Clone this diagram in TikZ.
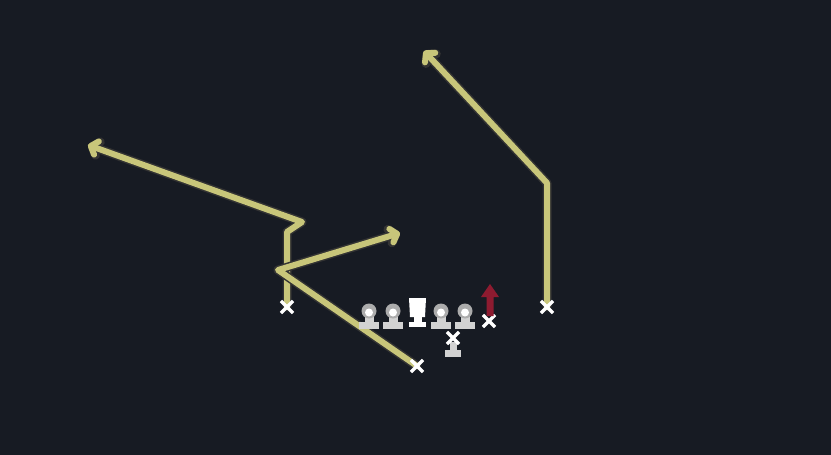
\documentclass[tikz,border=0pt]{standalone}
\usepackage{tikz}
\usetikzlibrary{shapes.misc, arrows.meta, backgrounds}
\usetikzlibrary{positioning}
\definecolor{field}{HTML}{171B23}
\definecolor{route}{HTML}{C8C67A}
\definecolor{runner}{HTML}{8E1B30}
\tikzstyle{player} = [cross out, draw=white, line width=3.2pt, minimum size=9pt, inner sep=0pt]
\tikzstyle{routeline} = [draw=route, line width=6pt, line join=round, line cap=round,
preaction={draw=black!80, line width=9pt, line join=round, line cap=round}, -{Straight Barb[length=6pt, width=14pt, line cap=round, line join=round]}]

% lineman drawn as a pawn: head, stem, base
\newcommand{\pawn}[2]{
  \fill[gray!35] (#2) ++(-10,11) rectangle ++(20,7);
  \fill[gray!35] (#2) ++(-4.5,3) rectangle ++(9,9);
  \node (#1) [circle, fill=gray!65, minimum size=15pt, inner sep=0pt] at (#2) {};
  \fill[white] (#2) ++(0,1.5) circle (4);
}

\begin{document}
\begin{tikzpicture}[x=1pt, y=-1pt]
  \useasboundingbox (0,0) rectangle (831,455);
  \begin{pgfonlayer}{background}
    \fill[field] (0,0) rectangle (831,455);
  \end{pgfonlayer}

  % receivers
  \node (wr1) [player] at (287,307) {};
  \node (wr2) [player] at (417,366) {};
  \node (wr3) [player] at (547,307) {};
  \node (te) [player] at (489,321) {};

  % line
  \pawn{lt}{369,311}
  \pawn{lg}{393,311}
  \pawn{rg}{441,311}
  \pawn{rt}{465,311}

  % center
  \fill[white] (409,298) -- (426,298) -- (425,317) -- (410,317) -- cycle;
  \fill[white] (413.5,316) rectangle (421.5,322);
  \node (c) [rectangle, fill=white, minimum width=17pt, minimum height=5pt, inner sep=0pt] at (417.5,324) {};

  % quarterback
  \fill[gray!35] (445,350) rectangle (461,357);
  \fill[gray!35] (449.5,342) rectangle (456.5,351);
  \node (qb) [player] at (453,338) {};

  % blocker arrow
  \fill[runner] (490,284) -- (499,297) -- (493.5,297) -- (493.5,316) -- (486.5,316) -- (486.5,297) -- (481,297) -- cycle;

  \coordinate (r1a) at (287,232);
  \coordinate (r1b) at (302,222);
  \coordinate (r1c) at (88,145);
  \coordinate (r2a) at (278,270);
  \coordinate (r2b) at (400,233);
  \coordinate (r3a) at (547,183);
  \coordinate (r3b) at (424,51);

  \begin{pgfonlayer}{background}
    \draw[routeline] (wr1.center) -- (r1a) -- (r1b) -- (r1c);
    \draw[routeline] (wr2.center) -- (r2a) -- (r2b);
    \draw[routeline] (wr3.center) -- (r3a) -- (r3b);
  \end{pgfonlayer}
\end{tikzpicture}
\end{document}
